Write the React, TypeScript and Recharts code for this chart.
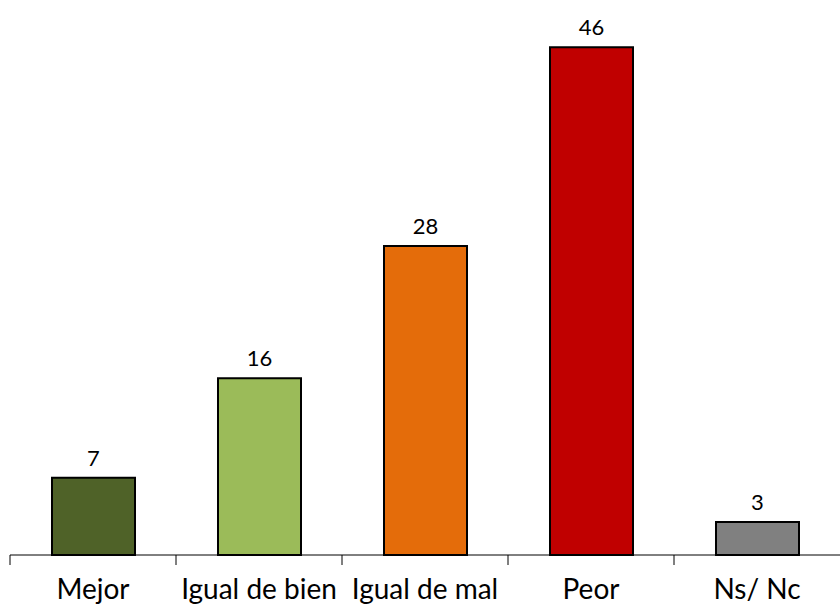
import { BarChart, Bar, XAxis, YAxis, Cell, LabelList } from "recharts";

const categories = ["Mejor", "Igual de bien", "Igual de mal", "Peor", "Ns/ Nc"];
const values = [7, 16, 28, 46, 3];
const colors = ["#4F6228", "#9BBB59", "#E46C0A", "#C00000", "#808080"];

const data = categories.map((name, i) => ({ name, value: values[i] }));

const FONT = "Lato, 'Open Sans', sans-serif";

function CategoryTick(props: any) {
  const { x, y, payload } = props;
  const half = 83;
  const axisY = y - 24;
  return (
    <g>
      <line x1={x - half} x2={x - half} y1={axisY} y2={axisY + 10} stroke="#000" strokeWidth={1} />
      <text x={x} y={y} dy="0.71em" textAnchor="middle" fontSize={28} fill="#000" fontFamily={FONT}>
        {payload.value}
      </text>
    </g>
  );
}

export default function App() {
  return (
    <div style={{ position: "absolute", left: 0, top: 0, background: "#fff" }}>
      <BarChart
        width={840}
        height={608}
        data={data}
        margin={{ top: 3, right: 0, bottom: 0, left: 10 }}
      >
        <YAxis hide domain={[0, 50]} />
        <XAxis
          dataKey="name"
          height={53}
          axisLine={{ stroke: "#000", strokeWidth: 1 }}
          tickLine={false}
          tickSize={10}
          tickMargin={14}
          interval={0}
          tick={<CategoryTick />}
        />
        <Bar dataKey="value" barSize={83} stroke="#000" strokeWidth={2} isAnimationActive={false}>
          {data.map((d, i) => (
            <Cell key={d.name} fill={colors[i]} />
          ))}
          <LabelList
            dataKey="value"
            position="top"
            offset={12}
            fill="#000"
            fontSize={22}
            fontFamily={FONT}
          />
        </Bar>
      </BarChart>
    </div>
  );
}
